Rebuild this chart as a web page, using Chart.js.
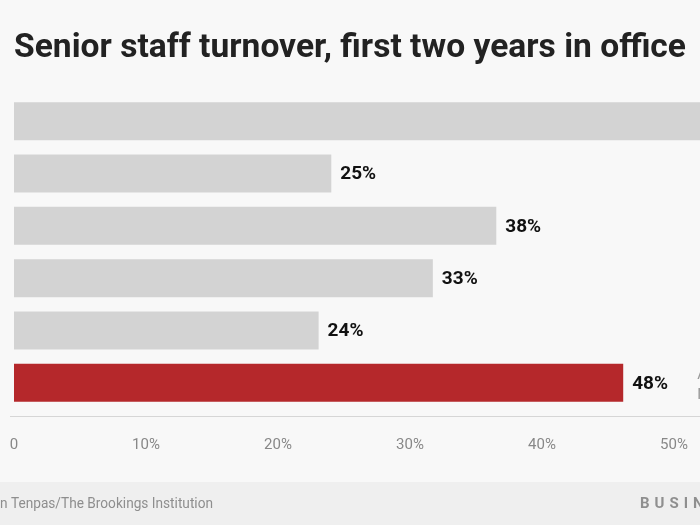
<!DOCTYPE html>
<html>
<head>
<meta charset="utf-8">
<script src="https://cdn.jsdelivr.net/npm/chart.js@4"></script>
<style>
  html, body { margin: 0; padding: 0; background: #f8f8f8; }
  canvas { display: block; }
</style>
</head>
<body>
<canvas id="chart" width="700" height="525"></canvas>
<script>
// datos (la primera barra sale del recorte)
const categories = ['Reagan', 'Bush', 'Clinton', 'Bush', 'Obama', 'Trump'];
const values = [78, 25, 38, 33, 24, 48];
const valueLabels = ['78%', '25%', '38%', '33%', '24%', '48%'];
const barColors = ['#d3d3d3', '#d3d3d3', '#d3d3d3', '#d3d3d3', '#d3d3d3', '#b5282b'];
const tickValues = [0, 10, 20, 30, 40, 50];
const noteLines = ['As of', 'Nov. 2018'];

const titleText = 'Senior staff turnover, first two years in office';
const sourceText = 'Source: Kathryn Dunn Tenpas/The Brookings Institution';

// dibuja texto ajustado a un ancho (fuente condensada)
function fitText(ctx, text, x, y, scaleX) {
    ctx.save();
    ctx.translate(x, y);
    ctx.scale(scaleX, 1);
    ctx.fillText(text, 0, 0);
    ctx.restore();
}

const decorPlugin = {
    id: 'decor',
    beforeDraw(chart) {
        const ctx = chart.ctx;
        ctx.save();
        // título
        ctx.fillStyle = '#222';
        ctx.font = 'bold 34px Roboto';
        ctx.textBaseline = 'alphabetic';
        ctx.textAlign = 'left';
        const w = ctx.measureText(titleText).width;
        fitText(ctx, titleText, 14, 57, 672 / w);

        // pie de página
        ctx.fillStyle = '#efefef';
        ctx.fillRect(0, 482, chart.width, 525 - 482);

        ctx.font = '14px Roboto';
        ctx.fillStyle = '#8e8e8e';
        const part = ctx.measureText('n Tenpas/The Brookings Institution').width;
        const s = 213 / part;
        const full = ctx.measureText(sourceText).width * s;
        fitText(ctx, sourceText, 213 - full, 508, s);

        // logo
        ctx.font = 'bold 15px Roboto';
        ctx.fillStyle = '#8f8f8f';
        let lx = 640;
        for (const ch of 'BUSINESS INSIDER') {
            ctx.fillText(ch, lx, 508);
            lx += ctx.measureText(ch).width + 5;
        }

        // línea base
        ctx.strokeStyle = '#d6d6d6';
        ctx.lineWidth = 1;
        ctx.beginPath();
        ctx.moveTo(10, 416.5);
        ctx.lineTo(chart.width, 416.5);
        ctx.stroke();
        ctx.restore();
    },
    afterDatasetsDraw(chart) {
        const ctx = chart.ctx;
        const meta = chart.getDatasetMeta(0);
        ctx.save();
        ctx.font = 'bold 19px Roboto';
        ctx.fillStyle = '#111';
        ctx.textBaseline = 'middle';
        ctx.textAlign = 'left';
        meta.data.forEach((bar, i) => {
            ctx.fillText(valueLabels[i], bar.x + 9, bar.y + 1);
        });
        // nota junto a la barra roja
        const last = meta.data[meta.data.length - 1];
        ctx.font = '15px Roboto';
        ctx.fillStyle = '#999';
        ctx.textBaseline = 'alphabetic';
        ctx.fillText(noteLines[0], last.x + 74, 379);
        ctx.fillText(noteLines[1], last.x + 74, 399);
        ctx.restore();
    }
};

new Chart(document.getElementById('chart'), {
    type: 'bar',
    data: {
        labels: categories,
        datasets: [{
            data: values,
            backgroundColor: barColors,
            borderWidth: 0,
            categoryPercentage: 1,
            barPercentage: 0.725,
            xAxisID: 'x'
        }]
    },
    options: {
        indexAxis: 'y',
        responsive: false,
        animation: false,
        layout: { padding: { left: 14, right: 0, top: 95, bottom: 0 } },
        plugins: {
            legend: { display: false },
            tooltip: { enabled: false }
        },
        scales: {
            x: {
                type: 'linear',
                min: 0,
                max: 54.05,
                display: false
            },
            xTicks: {
                type: 'linear',
                position: 'bottom',
                min: 0,
                max: 51.97,
                grid: { display: false },
                border: { display: false },
                afterBuildTicks: (scale) => {
                    scale.ticks = tickValues.map(v => ({ value: v }));
                },
                afterFit: (scale) => {
                    scale.height = 116;
                    scale.paddingLeft = 0;
                    scale.paddingRight = 0;
                },
                ticks: {
                    padding: 19,
                    color: '#888',
                    font: { family: 'Roboto', size: 15 },
                    maxRotation: 0,
                    callback: (v) => v === 0 ? '0' : v + '%'
                }
            },
            y: { display: false }
        }
    },
    plugins: [decorPlugin]
});
</script>
</body>
</html>
